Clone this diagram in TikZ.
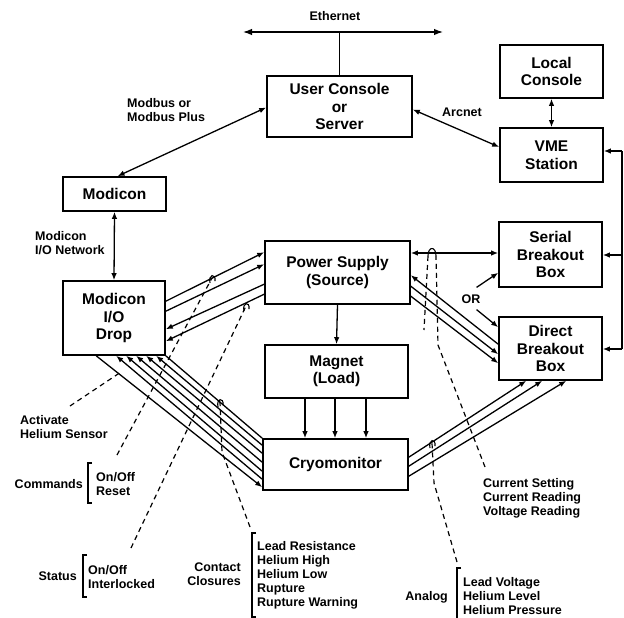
\documentclass[tikz,border=0pt]{standalone}
\usepackage{fontspec}
\setmainfont{Liberation Sans}
\usetikzlibrary{arrows.meta,calc}
\newcommand\bigf{\fontsize{15.5}{17.5}\selectfont\bfseries}
\newcommand\smallf{\fontsize{12.5}{14}\selectfont\bfseries}
\begin{document}
\begin{tikzpicture}[x=1pt,y=-1pt,
  box/.style={draw,line width=1.6pt,inner sep=0pt,align=center,font=\bigf},
  lbl/.style={inner sep=0pt,align=left,font=\smallf},
  conn/.style={line width=1.3pt},
  arr/.style={conn,-{Latex[length=7pt,width=5.5pt]}},
  darr/.style={conn,{Latex[length=7pt,width=5.5pt]}-{Latex[length=7pt,width=5.5pt]}},
  dline/.style={line width=1.2pt,dash pattern=on 5pt off 4pt},
  hook/.style={line width=1.1pt},
  brk/.style={line width=1.3pt},
  hk/.pic={\draw[hook] (-2,5) .. controls (-4,-4) and (4,-5) .. (3,3);}]
\fill[white] (0,0) rectangle (624,618);
\useasboundingbox (0,0) rectangle (624,618);

% boxes
\node[box,minimum width=145pt,minimum height=61pt] (uc) at (339.5,106.5) {User Console\\or\\Server};
\node[box,minimum width=103pt,minimum height=53pt] (lc) at (551.5,71.5) {Local\\Console};
\node[box,minimum width=103pt,minimum height=54pt] (vme) at (551.5,155) {VME\\Station};
\node[box,minimum width=103pt,minimum height=65pt] (sbb) at (550.5,254.5) {Serial\\Breakout\\Box};
\node[box,minimum width=103pt,minimum height=63pt] (dbb) at (550.5,348.5) {Direct\\Breakout\\Box};
\node[box,minimum width=103pt,minimum height=34pt] (mod) at (114.5,194) {Modicon};
\node[box,minimum width=102pt,minimum height=74pt] (drop) at (114,318) {Modicon\\I/O\\Drop};
\node[box,minimum width=145pt,minimum height=63pt] (ps) at (337.5,272.5) {Power Supply\\(Source)};
\node[box,minimum width=143pt,minimum height=53pt] (mag) at (336.5,371.5) {Magnet\\(Load)};
\node[box,minimum width=145pt,minimum height=51pt] (cryo) at (335.5,464.5) {Cryomonitor};

% Ethernet
\coordinate (ethL) at (243,32);
\coordinate (ethR) at (443,32);
\draw[conn,{Latex[length=9pt,width=6.5pt]}-{Latex[length=9pt,width=6.5pt]}] (ethL) -- (ethR);
\draw[conn] (uc.north) -- (uc.north |- ethL);
\node[lbl] (ethlbl) at (335,16) {Ethernet};

% network links
\draw[darr] ([xshift=3pt]mod.north) -- ([yshift=-1pt]uc.west);
\draw[darr] ([yshift=-3pt]uc.east) -- ([yshift=8pt]vme.west);
\draw[darr] (lc.south) -- (vme.north);
\draw[darr] (mod.south) -- (drop.north);

% right bus
\coordinate (busA) at (622,151);
\coordinate (busB) at (622,255);
\coordinate (busC) at (622,349);
\draw[conn] (busA) -- (busC);
\draw[arr] (busA) -- (busA -| vme.east);
\draw[arr] (busB) -- (busB -| sbb.east);
\draw[arr] (busC) -- (busC -| dbb.east);

% PS - serial
\coordinate (psS) at ([yshift=19.5pt]ps.east);
\draw[darr] (psS) -- (psS -| sbb.west);

% OR
\node[lbl] (orl) at (471,299) {OR};
\draw[arr] ([xshift=-4pt,yshift=7pt]orl.north east) -- ([yshift=15pt]sbb.south west);
\draw[arr] ([xshift=-4pt,yshift=-6pt]orl.south east) -- ([yshift=-11pt]dbb.north west);

% PS - direct
\draw[arr] ([yshift=-28pt]dbb.north west) -- ([yshift=-35pt]ps.north east);
\draw[arr] ([yshift=-46pt]ps.north east) -- ([yshift=-38pt]dbb.north west);
\draw[arr] ([yshift=-56pt]ps.north east) -- ([yshift=-47pt]dbb.north west);

% cryo - direct
\draw[arr] ([yshift=-19pt]cryo.north east) -- ([xshift=28pt]dbb.south west);
\draw[arr] ([yshift=-28pt]cryo.north east) -- ([xshift=44pt]dbb.south west);
\draw[arr] ([yshift=-38pt]cryo.north east) -- ([xshift=68pt]dbb.south west);

% PS - magnet - cryo
\draw[arr] (ps.south) -- (mag.north);
\foreach \dx/\nm in {-31.5/ma,-1.5/mb,29.5/mc}{
  \coordinate (\nm) at ([xshift=\dx pt]mag.south);
  \draw[arr] (\nm) -- (\nm |- cryo.north);
}

% drop - PS
\draw[arr] ([yshift=-21pt]drop.north east) -- ([yshift=-12pt]ps.north west);
\draw[arr] ([yshift=-31pt]drop.north east) -- ([yshift=-24pt]ps.north west);
\draw[arr] ([yshift=-44pt]ps.north west) -- ([yshift=-49pt]drop.north east);
\draw[arr] ([yshift=-54pt]ps.north west) -- ([yshift=-61pt]drop.north east);

% drop - cryo bundle
\draw[arr] ([xshift=34pt]drop.south west) -- ([yshift=-49pt]cryo.north west);
\draw[arr] ([yshift=-41pt]cryo.north west) -- ([xshift=54pt]drop.south west);
\draw[arr] ([yshift=-33pt]cryo.north west) -- ([xshift=64pt]drop.south west);
\draw[arr] ([yshift=-24pt]cryo.north west) -- ([xshift=74pt]drop.south west);
\draw[arr] ([yshift=-15pt]cryo.north west) -- ([xshift=84pt]drop.south west);
\draw[arr] ([yshift=-7pt]cryo.north west) -- ([xshift=94pt]drop.south west);
\draw[conn] (drop.south east) -- (cryo.north west);

% dashed signal leaders
\coordinate (d1a) at (70,406); \coordinate (d1b) at (121,372);
\draw[dline] (d1a) -- (d1b);
\coordinate (d2a) at (117,455); \coordinate (d2b) at (212,278);
\draw[dline] (d2a) -- (d2b);
\pic at (d2b) {hk};
\coordinate (d3a) at (131,548); \coordinate (d3b) at (246,306);
\draw[dline] (d3a) -- (d3b);
\pic at (d3b) {hk};
\coordinate (d4a) at (250,527); \coordinate (d4m) at (222,452); \coordinate (d4b) at (220,402);
\draw[dline] (d4a) -- (d4m) -- (d4b);
\pic at (d4b) {hk};
\coordinate (d5a) at (457,562); \coordinate (d5m) at (434,483); \coordinate (d5b) at (432,443);
\draw[dline] (d5a) -- (d5m) -- (d5b);
\pic at (d5b) {hk};
\coordinate (d6a) at (485,467); \coordinate (d6m) at (438,345); \coordinate (d6b) at (436,256);
\coordinate (d6c) at (428,256); \coordinate (d6d) at (424,330);
\draw[dline] (d6a) -- (d6m) -- (d6b);
\draw[dline] (d6c) -- (d6d);
\draw[hook] (d6c) .. controls (428,246) and (436,246) .. (d6b);

% labels
\node[lbl,anchor=west] (modb) at (127,110) {Modbus or\\Modbus Plus};
\node[lbl] (arc) at (462,112) {Arcnet};
\node[lbl,anchor=west] (mnet) at (35,243) {Modicon\\I/O Network};
\node[lbl,anchor=west] (act) at (20,427) {Activate\\Helium Sensor};

\node[lbl,anchor=east] (cmdl) at (83,484) {Commands};
\draw[brk] (92,463) -- (88,463) -- (88,503) -- (92,503);
\node[lbl,anchor=west] (cmdi) at (96,484) {On/Off\\Reset};

\node[lbl,anchor=east] (stl) at (77,576) {Status};
\draw[brk] (87,555) -- (83,555) -- (83,597) -- (87,597);
\node[lbl,anchor=west] (sti) at (88,577) {On/Off\\Interlocked};

\node[lbl,anchor=east,align=right] (ccl) at (241,574) {Contact\\Closures};
\draw[brk] (256,533) -- (252,533) -- (252,617) -- (256,617);
\node[lbl,anchor=west] (cci) at (257,575) {Lead Resistance\\Helium High\\Helium Low\\Rupture\\Rupture Warning};

\node[lbl,anchor=east] (anl) at (448,597) {Analog};
\draw[brk] (461,568) -- (457,568) -- (457,618);
\node[lbl,anchor=west] (ani) at (463,596) {Lead Voltage\\Helium Level\\Helium Pressure};

\node[lbl,anchor=west] (cur) at (483,498) {Current Setting\\Current Reading\\Voltage Reading};
\end{tikzpicture}
\end{document}
